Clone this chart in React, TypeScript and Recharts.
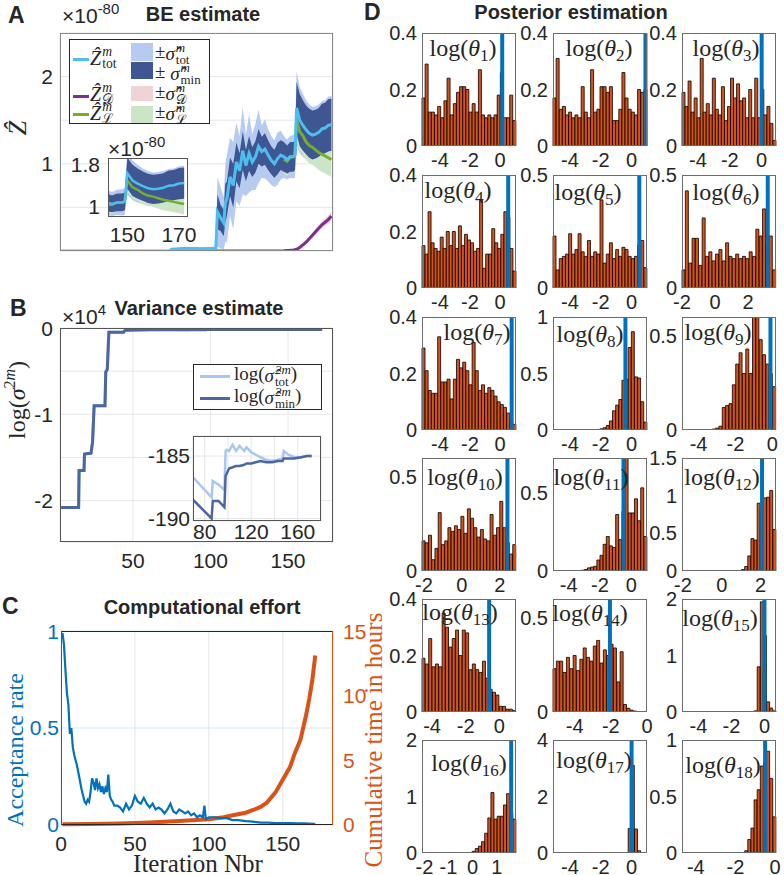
import React from 'react';
import { Area, Bar, CartesianGrid, ComposedChart, Line, ReferenceLine, XAxis, YAxis } from 'recharts';

const SANS = '"Liberation Sans", Arial, Helvetica, sans-serif';
const SERIF = '"Liberation Serif", "DejaVu Serif", "Times New Roman", serif';
const INK = '#262626';
const GRID = '#e6e6e6';
const BLUE = '#0072BD';
const ORANGE = '#D95319';
const PAD = 12;

// ---------- A: BE estimate (x 1e-80) ----------
const aIter = [1, 70, 71, 80, 90, 99, 100, 102, 104, 105, 106, 108, 110, 112, 114, 116, 118, 120, 122, 124, 126, 128, 130, 132, 134, 136, 138, 140, 142, 144, 146, 148, 149, 150, 152, 154, 156, 158, 160, 162, 164, 166, 168, 170, 172];
const zTot = [0, 0, 0.02, 0.03, 0.025, 0.03, 0.45, 0.38, 0.32, 0.55, 0.6, 0.85, 0.75, 1.02, 0.92, 1.15, 0.98, 1.12, 1.02, 1.08, 1.2, 1.14, 1.17, 1.1, 1.04, 1.0, 1.06, 1.1, 1.08, 1.05, 1.08, 1.08, 1.1, 1.64, 1.5, 1.44, 1.39, 1.35, 1.33, 1.34, 1.36, 1.4, 1.41, 1.44, 1.45];
const sigTot = [0, 0, 0.01, 0.02, 0.02, 0.02, 0.4, 0.35, 0.3, 0.45, 0.5, 0.45, 0.5, 0.45, 0.4, 0.5, 0.35, 0.45, 0.32, 0.38, 0.42, 0.3, 0.34, 0.3, 0.28, 0.27, 0.3, 0.28, 0.24, 0.23, 0.24, 0.25, 0.26, 0.42, 0.38, 0.36, 0.34, 0.33, 0.32, 0.32, 0.32, 0.32, 0.32, 0.33, 0.33];
const sigMin = [0, 0, 0.005, 0.01, 0.01, 0.01, 0.2, 0.15, 0.15, 0.22, 0.2, 0.22, 0.25, 0.22, 0.2, 0.22, 0.18, 0.2, 0.17, 0.18, 0.2, 0.17, 0.18, 0.17, 0.16, 0.16, 0.18, 0.17, 0.17, 0.16, 0.17, 0.17, 0.17, 0.3, 0.3, 0.29, 0.28, 0.28, 0.28, 0.28, 0.28, 0.29, 0.29, 0.3, 0.3];
const zD = [null, null, 0, 0, 0, 0, 0, 0, 0, 0, 0, 0, 0, 0, 0, 0, 0, 0, 0, 0, 0, 0, 0, 0, 0, 0, 0, 0, 0.002, 0.005, 0.008, 0.012, 0.015, 0.02, 0.04, 0.07, 0.1, 0.14, 0.18, 0.22, 0.26, 0.3, 0.33, 0.36, 0.4];
const sigD = [null, null, 0.002, 0.002, 0.002, 0.002, 0.003, 0.003, 0.003, 0.003, 0.003, 0.003, 0.003, 0.003, 0.003, 0.003, 0.003, 0.003, 0.003, 0.003, 0.003, 0.003, 0.003, 0.003, 0.003, 0.003, 0.003, 0.003, 0.004, 0.005, 0.006, 0.008, 0.01, 0.012, 0.015, 0.018, 0.02, 0.024, 0.028, 0.032, 0.036, 0.04, 0.044, 0.048, 0.05];
const zL = [null, null, null, null, null, null, null, null, null, null, null, null, null, null, null, null, null, null, null, null, null, null, null, null, null, null, null, null, 1.05, 1.03, 1.08, 1.08, 1.1, 1.5, 1.37, 1.32, 1.25, 1.21, 1.19, 1.16, 1.13, 1.11, 1.09, 1.07, 1.05];
const sigL = [null, null, null, null, null, null, null, null, null, null, null, null, null, null, null, null, null, null, null, null, null, null, null, null, null, null, null, null, 0.17, 0.17, 0.17, 0.17, 0.17, 0.22, 0.22, 0.21, 0.21, 0.2, 0.2, 0.2, 0.2, 0.2, 0.2, 0.2, 0.2];

// ---------- B: variance estimate (log sigma^2) ----------
const varIter = [1, 15, 15.3, 18.5, 18.8, 23, 24, 25, 32, 32.5, 33.5, 34.5, 44, 45, 60, 70, 86, 87, 92, 97, 98, 99, 101, 104, 107, 110, 114, 116, 120, 124, 128, 133, 138, 143, 147, 148, 152, 157, 163, 168, 172];
const varTot = [-20800, -20800, -16500, -16500, -14600, -14500, -13200, -9000, -9000, -5100, -4800, -500, -500, -250, -200, -186.7, -188.3, -187.0, -187.3, -187.7, -184.6, -184.5, -184.6, -184.1, -184.6, -184.2, -184.6, -184.3, -184.7, -184.9, -185.1, -185.3, -185.4, -185.3, -185.2, -184.6, -184.9, -185.1, -185.1, -185.0, -185.0];
const varMin = [-20800, -20800, -16500, -16500, -14600, -14500, -13200, -9000, -9000, -5100, -4800, -500, -500, -250, -200, -188.5, -190.0, -188.6, -188.6, -189.1, -186.6, -186.4, -186.0, -185.9, -185.8, -185.8, -185.7, -185.6, -185.6, -185.5, -185.4, -185.5, -185.5, -185.4, -185.4, -185.2, -185.2, -185.2, -185.1, -185.0, -185.0];

// ---------- C: computational effort ----------
const accIter = [1, 2, 3, 4, 5, 6, 7, 8, 9, 10, 11, 12, 13, 14, 15, 16, 17, 18, 19, 20, 21, 22, 23, 24, 25, 26, 27, 28, 29, 30, 31, 32, 33, 34, 35, 36, 38, 40, 42, 44, 46, 48, 50, 52, 54, 56, 58, 60, 62, 64, 66, 68, 70, 72, 74, 76, 78, 80, 82, 84, 86, 88, 90, 92, 94, 96, 97, 98, 100, 104, 108, 112, 116, 120, 125, 130, 135, 140, 145, 150, 155, 160, 165, 170, 172];
const accRate = [0.99, 0.93, 0.8, 0.68, 0.62, 0.47, 0.5, 0.4, 0.36, 0.33, 0.3, 0.26, 0.22, 0.18, 0.15, 0.12, 0.11, 0.13, 0.12, 0.17, 0.24, 0.22, 0.18, 0.24, 0.19, 0.21, 0.17, 0.2, 0.16, 0.19, 0.17, 0.26, 0.15, 0.13, 0.12, 0.1, 0.1, 0.09, 0.07, 0.11, 0.08, 0.1, 0.15, 0.12, 0.11, 0.14, 0.11, 0.09, 0.11, 0.08, 0.09, 0.08, 0.06, 0.08, 0.11, 0.07, 0.06, 0.08, 0.07, 0.06, 0.07, 0.05, 0.06, 0.04, 0.05, 0.04, 0.1, 0.03, 0.04, 0.04, 0.035, 0.035, 0.025, 0.025, 0.02, 0.017, 0.012, 0.012, 0.01, 0.01, 0.01, 0.008, 0.008, 0.006, 0.006];
const timeIter = [1, 20, 40, 60, 80, 100, 110, 117, 125, 130, 135, 139, 145, 150, 155, 158, 162, 166, 168, 170, 172];
const timeHours = [0.05, 0.07, 0.12, 0.2, 0.3, 0.45, 0.6, 0.77, 0.95, 1.16, 1.4, 1.7, 2.5, 3.5, 4.5, 5.5, 6.6, 8.6, 9.8, 11.2, 13.1];

// ---------- D: posterior histograms ----------
const h1 = [0.17, 0.29, 0.12, 0.12, 0.11, 0.14, 0.10, 0.16, 0.24, 0.11, 0.15, 0.19, 0.21, 0.21, 0.20, 0.12, 0.15, 0.12, 0.27, 0.11, 0.10, 0.11, 0.10, 0.11, 0.18, 0.26, 0.10, 0.10, 0.18, 0.09];
const h2 = [0.17, 0.31, 0.13, 0.14, 0.11, 0.12, 0.10, 0.11, 0.10, 0.21, 0.12, 0.10, 0.27, 0.12, 0.13, 0.21, 0.21, 0.19, 0.21, 0.09, 0.09, 0.13, 0.26, 0.17, 0.13, 0.12, 0.11, 0.20, 0.19, 0.20];
const h3 = [0.19, 0.14, 0.23, 0.12, 0.17, 0.10, 0.31, 0.12, 0.15, 0.11, 0.24, 0.13, 0.11, 0.21, 0.09, 0.14, 0.24, 0.17, 0.22, 0.16, 0.17, 0.10, 0.20, 0.10, 0.24, 0.10, 0.20, 0.11, 0.14, 0.08, 0.02];
const h4 = [0.15, 0.12, 0.27, 0.16, 0.14, 0.13, 0.18, 0.14, 0.20, 0.15, 0.20, 0.14, 0.22, 0.15, 0.19, 0.17, 0.16, 0.13, 0.14, 0.31, 0.07, 0.12, 0.12, 0.21, 0.16, 0.14, 0.19, 0.27, 0.25, 0.14, 0.06];
const h5 = [0.23, 0.08, 0.13, 0.14, 0.15, 0.24, 0.15, 0.17, 0.24, 0.16, 0.14, 0.21, 0.14, 0.16, 0.15, 0.39, 0.11, 0.15, 0.20, 0.13, 0.17, 0.14, 0.18, 0.17, 0.14, 0.13, 0.14, 0.19, 0.21, 0.09];
const h6 = [0.08, 0.43, 0.11, 0.22, 0.22, 0.10, 0.31, 0.14, 0.16, 0.12, 0.15, 0.17, 0.12, 0.20, 0.14, 0.13, 0.15, 0.13, 0.14, 0.13, 0.16, 0.14, 0.26, 0.23, 0.35, 0.20, 0.23, 0.08];
const h7 = [0.29, 0.21, 0.14, 0.13, 0.13, 0.33, 0.17, 0.17, 0.18, 0.11, 0.18, 0.25, 0.22, 0.24, 0.21, 0.16, 0.31, 0.21, 0.14, 0.16, 0.13, 0.15, 0.14, 0.12, 0.10, 0.09, 0.08, 0.06, 0.03, 0.02];
const h8 = [0, 0, 0, 0, 0, 0, 0, 0, 0, 0, 0, 0, 0, 0.002, 0.005, 0.01, 0.02, 0.04, 0.08, 0.17, 0.22, 0.27, 0.44, 0.45, 0.73, 0.87, 0.47, 0.46, 0.25, 0.07];
const h9 = [0, 0, 0, 0, 0, 0, 0, 0, 0, 0.005, 0.01, 0.02, 0.12, 0.13, 0.14, 0.24, 0.35, 0.41, 0.30, 0.43, 0.30, 0.65, 0.65, 0.48, 0.40, 0.35, 0.30, 0.23];
const h10 = [0.16, 0.15, 0.19, 0.06, 0.12, 0.31, 0.14, 0.16, 0.23, 0.21, 0.24, 0.22, 0.29, 0.20, 0.33, 0.28, 0.23, 0.18, 0.22, 0.17, 0.16, 0.30, 0.19, 0.23, 0.37, 0.23, 0.15, 0.09, 0.14];
const h11 = [0, 0, 0, 0, 0, 0, 0, 0, 0.003, 0.005, 0.01, 0.02, 0.025, 0.03, 0.07, 0.10, 0.17, 0.22, 0.16, 0.15, 0.36, 0.20, 0.38, 0.75, 0.37, 0.37, 0.46, 0.32, 0.53, 0.22];
const h12 = [0, 0, 0, 0, 0, 0, 0, 0, 0, 0, 0, 0, 0, 0, 0, 0, 0, 0, 0, 0.02, 0.06, 0.2, 0.43, 0.41, 0.9, 0.81, 0.97, 0.98, 1.07, 0.55];
const h13 = [0.19, 0.17, 0.26, 0.16, 0.17, 0.16, 0.35, 0.30, 0.23, 0.26, 0.29, 0.20, 0.29, 0.28, 0.15, 0.17, 0.15, 0.14, 0.18, 0.12, 0.08, 0.07, 0.06, 0.02, 0.02, 0.01, 0.01, 0.005];
const h14 = [0.23, 0.27, 0.27, 0.21, 0.29, 0.23, 0.30, 0.22, 0.28, 0.34, 0.29, 0.27, 0.35, 0.38, 0.26, 0.33, 0.30, 0.36, 0.34, 0.16, 0.32, 0.04, 0.02, 0.01, 0.005, 0, 0, 0];
const h15 = [0, 0, 0, 0, 0, 0, 0, 0, 0, 0, 0, 0, 0, 0, 0, 0, 0, 0, 0, 0, 0, 0, 0, 0.02, 0.8, 1.95, 1.35, 0.18, 0.07, 0.02];
const h16 = [0, 0, 0, 0, 0, 0, 0, 0, 0, 0, 0, 0, 0, 0, 0, 0, 0.03, 0.08, 0.12, 0.2, 0.35, 0.62, 1.07, 0.6, 0.65, 0.65, 0.85, 1.05, 0.7, 0.6];
const h17 = [0, 0, 0, 0, 0, 0, 0, 0, 0, 0, 0, 0, 0, 0, 0, 0, 0, 0, 0, 0, 0, 0, 0, 0, 0.87, 3.1, 0.85, 0.08, 0, 0];
const h18 = [0, 0, 0, 0, 0, 0, 0, 0, 0, 0, 0, 0, 0, 0, 0, 0, 0, 0, 0, 0, 0.02, 0.12, 0.22, 0.47, 0.56, 0.77, 0.8, 0.9, 0.66, 0.32];

const histCounts = [h1, h2, h3, h4, h5, h6, h7, h8, h9, h10, h11, h12, h13, h14, h15, h16, h17, h18];
const histLo = [-5.2, -5.1, -5.0, -5.2, -5.1, -2.0, -5.2, -5.1, -4.9, -2.1, -5.0, -2.05, -4.6, -5.2, -5.0, -2.1, -5.1, -4.7];
const histHi = [1.07, 1.0, 0.9, 1.07, 1.0, 3.7, 1.07, 1.0, 0.2, 2.85, 1.0, 2.8, 1.0, 0, 0.7, 1.8, 1.0, 0.05];
const histTruth = [0.15, 0.9, 0.0, 0.55, 0.5, 3.2, 0.78, -0.4, -0.1, 2.4, -0.5, 2.08, -0.6, -2.05, 0.0, 1.6, 0.0, -0.5];
const histYMax = [0.4, 0.4, 0.4, 0.4, 0.5, 0.5, 0.4, 1, 0.6, 0.6, 0.72, 1.5, 0.4, 0.6, 2, 2, 4, 1];
const histYTicks = [
  [0, 0.2, 0.4], [0, 0.2, 0.4], [0, 0.2, 0.4], [0, 0.2, 0.4], [0, 0.5], [0, 0.5],
  [0, 0.2, 0.4], [0, 0.5, 1], [0, 0.5], [0, 0.5], [0, 0.5], [0, 0.5, 1, 1.5],
  [0, 0.2, 0.4], [0, 0.5], [0, 1, 2], [0, 1, 2], [0, 2, 4], [0, 0.5, 1],
];
const histXTicks = [
  [-4, -2, 0], [-4, -2, 0], [-4, -2, 0], [-4, -2, 0], [-4, -2, 0], [-2, 0, 2],
  [-4, -2, 0], [-4, -2, 0], [-4, -2, 0], [-2, 0, 2], [-4, -2, 0], [-2, 0, 2],
  [-4, -2, 0], [-4, -2, 0], [-4, -2, 0], [-2, -1, 0, 1], [-4, -2, 0], [-4, -2, 0],
];

// layout of the histogram grid
const HIST_COLS = [422, 553, 682];
const HIST_ROWS = [33, 175, 317, 458, 599, 740];
const HIST_W = 94;
const HIST_H = 113;
const HIST_LABEL_AT = [
  [463, 48], [599, 48], [726, 48],
  [458, 190], [588, 192], [726, 192],
  [477, 332], [590, 334], [718, 332],
  [465, 477], [591, 477], [722, 477],
  [460, 612], [590, 613], [720, 618],
  [469, 763], [594, 760], [723, 765],
];

const aRows = aIter.map((it, i) => ({
  it,
  tot: zTot[i],
  totBand: [zTot[i] - sigTot[i], zTot[i] + sigTot[i]],
  minBand: [zTot[i] - sigMin[i], zTot[i] + sigMin[i]],
  d: zD[i],
  dBand: zD[i] == null ? null : [zD[i] - sigD[i], zD[i] + sigD[i]],
  l: zL[i],
  lBand: zL[i] == null ? null : [zL[i] - sigL[i], zL[i] + sigL[i]],
}));

const varRows = varIter.map((it, i) => ({ it, tot: varTot[i], min: varMin[i] }));

const cIters = Array.from(new Set([...accIter, ...timeIter])).sort((a, b) => a - b);
const cRows = cIters.map((it) => {
  const ai = accIter.indexOf(it);
  const ti = timeIter.indexOf(it);
  return { it, acc: ai >= 0 ? accRate[ai] : null, time: ti >= 0 ? timeHours[ti] : null };
});

function place(x: number, y: number, w: number, h: number, yw: number, xh: number, rw = 0) {
  return {
    style: { position: 'absolute' as const, left: x - yw, top: y - PAD },
    width: yw + w + rw + PAD,
    height: PAD + h + xh + PAD,
    margin: { top: PAD, right: PAD, bottom: PAD, left: 0 },
  };
}

function Txt({ x, y, children, size = 20, family = SANS, weight = 400, color = INK, rotate = 0, anchor = 'middle', italic = false }: any) {
  const tx = anchor === 'middle' ? '-50%' : anchor === 'end' ? '-100%' : '0%';
  return (
    <div
      style={{
        position: 'absolute', left: x, top: y, transform: `translate(${tx}, -50%) rotate(${rotate}deg)`,
        fontSize: size, fontFamily: family, fontWeight: weight, color, whiteSpace: 'nowrap', lineHeight: 1,
        fontStyle: italic ? 'italic' : 'normal',
      }}
    >
      {children}
    </div>
  );
}

function Frame({ x, y, w, h, color = '#6b6b6b', style = {} }: any) {
  return (
    <div style={{ position: 'absolute', left: x, top: y, width: w, height: h, border: `1px solid ${color}`, boxSizing: 'border-box', pointerEvents: 'none', ...style }} />
  );
}

function Scripted({ base, sup, sub, size = 20, italicBase = false }: any) {
  return (
    <span style={{ display: 'inline-flex', alignItems: 'center', fontFamily: SERIF, fontSize: size, verticalAlign: 'middle' }}>
      <span style={{ fontStyle: italicBase ? 'italic' : 'normal' }}>{base}</span>
      <span style={{ display: 'inline-flex', flexDirection: 'column', fontSize: size * 0.68, lineHeight: 0.9, marginLeft: 1 }}>
        <span style={{ fontStyle: 'italic' }}>{sup}</span>
        <span>{sub}</span>
      </span>
    </span>
  );
}

function Times10({ x, y, exp }: any) {
  return (
    <Txt x={x} y={y} anchor="start" size={21}>
      ×10<span style={{ fontSize: 15, position: 'relative', top: -9 }}>{exp}</span>
    </Txt>
  );
}

const tickStyle = (size: number, fill = INK) => ({ fontSize: size, fill, fontFamily: SANS });

function aSeries(w: number) {
  return [
    <Area key="tb" dataKey="totBand" type="linear" stroke="none" fill="#b6cbef" fillOpacity={1} isAnimationActive={false} dot={false} activeDot={false} />,
    <Area key="lb" dataKey="lBand" type="linear" stroke="none" fill="#cce5c7" fillOpacity={1} isAnimationActive={false} dot={false} activeDot={false} />,
    <Area key="db" dataKey="dBand" type="linear" stroke="none" fill="#efd3d7" fillOpacity={1} isAnimationActive={false} dot={false} activeDot={false} />,
    <Area key="mb" dataKey="minBand" type="linear" stroke="none" fill="#3e5691" fillOpacity={1} isAnimationActive={false} dot={false} activeDot={false} />,
    <Line key="d" dataKey="d" type="linear" stroke="#7E2F8E" strokeWidth={w} dot={false} isAnimationActive={false} />,
    <Line key="l" dataKey="l" type="linear" stroke="#77AC30" strokeWidth={w} dot={false} isAnimationActive={false} />,
    <Line key="t" dataKey="tot" type="linear" stroke="#4DBEEE" strokeWidth={w} dot={false} isAnimationActive={false} />,
  ];
}

function PanelA() {
  const main = place(60, 33, 273, 218, 60, 0);
  const ins = place(108, 158, 80, 59, 40, 25);
  const insetRows = aRows.filter((r) => r.it >= 142);
  return (
    <>
      <div style={main.style}>
        <ComposedChart width={main.width} height={main.height} margin={main.margin} data={aRows}>
          <CartesianGrid stroke={GRID} />
          <XAxis dataKey="it" type="number" domain={[0.6, 173]} ticks={[50, 100, 150]} allowDataOverflow height={0} tick={false} axisLine={false} tickLine={false} />
          <YAxis type="number" domain={[0, 2.5]} ticks={[0, 0.5, 1, 1.5, 2]} allowDataOverflow width={60} axisLine={false} tickLine={false} tickSize={0} tickMargin={7} tick={tickStyle(21)} tickFormatter={(v: number) => (Number.isInteger(v) ? String(v) : '')} />
          {aSeries(3)}
        </ComposedChart>
      </div>
      <Frame x={60} y={33} w={273} h={218} color="#8a8a8a" />
      <div style={{ position: 'absolute', left: 108, top: 158, width: 80, height: 59, background: '#fff' }} />
      <div style={ins.style}>
        <ComposedChart width={ins.width} height={ins.height} margin={ins.margin} data={insetRows}>
          <XAxis dataKey="it" type="number" domain={[142.5, 173.5]} ticks={[150, 170]} allowDataOverflow height={25} axisLine={false} tickLine={false} tickSize={0} tickMargin={10} tick={tickStyle(21)} />
          <YAxis type="number" domain={[0.8, 1.93]} ticks={[1, 1.4, 1.8]} allowDataOverflow width={40} axisLine={false} tickLine={false} tickSize={0} tickMargin={8} tick={tickStyle(21)} />
          {aSeries(2.5)}
        </ComposedChart>
      </div>
      <Frame x={108} y={158} w={80} h={59} color="#555" />
      <Times10 x={108} y={148} exp="-80" />
      <LegendA />
      <Txt x={8} y={15} anchor="start" size={23} weight={700}>A</Txt>
      <Times10 x={62} y={15} exp="-80" />
      <Txt x={203} y={14} size={20} weight={700}>BE estimate</Txt>
      <Txt x={18} y={128} rotate={-90} size={26} family={SERIF} italic>Ẑ</Txt>
    </>
  );
}

function LegendA() {
  const sw = (top: number, color: string) => (
    <div style={{ position: 'absolute', left: 3, top: top - 1.5, width: 16, height: 3, background: color }} />
  );
  const patch = (top: number, h: number, color: string) => (
    <div style={{ position: 'absolute', left: 61, top, width: 22, height: h, background: color }} />
  );
  return (
    <div style={{ position: 'absolute', left: 69, top: 39, width: 141, height: 85, background: '#fff', border: `1px solid ${INK}`, boxSizing: 'border-box' }}>
      {sw(19, '#4DBEEE')}
      <Txt x={20} y={18} anchor="start"><Scripted base="Ẑ" sup="m" sub="tot" size={20} italicBase /></Txt>
      {patch(3, 18, '#b6cbef')}
      {patch(22, 17, '#3e5691')}
      <Txt x={85} y={14} anchor="start" family={SERIF} size={19}>±<Scripted base="σ̂" sup="m" sub="tot" size={19} italicBase /></Txt>
      <Txt x={85} y={34} anchor="start" family={SERIF} size={19}>± <Scripted base="σ̂" sup="m" sub="min" size={19} italicBase /></Txt>
      {sw(56, '#7E2F8E')}
      <Txt x={20} y={54} anchor="start"><Scripted base="Ẑ" sup="m" sub="𝒟" size={20} italicBase /></Txt>
      {patch(46, 15, '#efd3d7')}
      <Txt x={85} y={54} anchor="start" family={SERIF} size={19}>±<Scripted base="σ̂" sup="m" sub="𝒟" size={19} italicBase /></Txt>
      {sw(74, '#77AC30')}
      <Txt x={20} y={73} anchor="start"><Scripted base="Ẑ" sup="m" sub="ℒ" size={20} italicBase /></Txt>
      {patch(66, 17, '#cce5c7')}
      <Txt x={85} y={74} anchor="start" family={SERIF} size={19}>±<Scripted base="σ̂" sup="m" sub="ℒ" size={19} italicBase /></Txt>
    </div>
  );
}

function PanelB() {
  const main = place(60, 328, 273, 214, 60, 30);
  const ins = place(193, 436, 128, 85, 45, 22);
  const insetRows = varRows.filter((r) => r.it >= 70);
  return (
    <>
      <div style={main.style}>
        <ComposedChart width={main.width} height={main.height} margin={main.margin} data={varRows}>
          <CartesianGrid stroke={GRID} />
          <XAxis dataKey="it" type="number" domain={[3, 179]} ticks={[50, 100, 150]} allowDataOverflow height={30} axisLine={false} tickLine={false} tickSize={0} tickMargin={11} tick={tickStyle(21)} />
          <YAxis type="number" domain={[-24800, 0]} ticks={[-20000, -15000, -10000, -5000, 0]} allowDataOverflow width={60} axisLine={false} tickLine={false} tickSize={0} tickMargin={7} tick={tickStyle(21)} tickFormatter={(v: number) => (v % 10000 === 0 ? String(v / 10000) : '')} />
          <Line dataKey="tot" type="linear" stroke="#a9c6ee" strokeWidth={3} dot={false} isAnimationActive={false} />
          <Line dataKey="min" type="linear" stroke="#4b66a0" strokeWidth={3} dot={false} isAnimationActive={false} />
        </ComposedChart>
      </div>
      <Frame x={60} y={328} w={273} h={214} color="#555" />
      <div style={{ position: 'absolute', left: 193, top: 436, width: 128, height: 85, background: '#fff' }} />
      <div style={ins.style}>
        <ComposedChart width={ins.width} height={ins.height} margin={ins.margin} data={insetRows}>
          <CartesianGrid stroke={GRID} />
          <XAxis dataKey="it" type="number" domain={[70, 180]} ticks={[80, 100, 120, 140, 160]} allowDataOverflow height={22} axisLine={false} tickLine={false} tickSize={0} tickMargin={3} tick={tickStyle(21)} tickFormatter={(v: number) => (v % 40 === 0 ? String(v) : '')} />
          <YAxis type="number" domain={[-190.2, -183.4]} ticks={[-190, -185]} allowDataOverflow width={45} axisLine={false} tickLine={false} tickSize={0} tickMargin={3} tick={tickStyle(21)} />
          <Line dataKey="tot" type="linear" stroke="#a9c6ee" strokeWidth={2.5} dot={false} isAnimationActive={false} />
          <Line dataKey="min" type="linear" stroke="#4b66a0" strokeWidth={2.5} dot={false} isAnimationActive={false} />
        </ComposedChart>
      </div>
      <Frame x={193} y={436} w={128} h={85} color="#555" />
      <div style={{ position: 'absolute', left: 193, top: 364, width: 129, height: 46, background: '#fff', border: `1px solid ${INK}`, boxSizing: 'border-box' }}>
        <div style={{ position: 'absolute', left: 6, top: 9.5, width: 30, height: 3, background: '#a9c6ee' }} />
        <div style={{ position: 'absolute', left: 6, top: 31.5, width: 30, height: 3, background: '#4b66a0' }} />
        <Txt x={40} y={11} anchor="start" family={SERIF} size={19}>log(<Scripted base="σ̂" sup="2m" sub="tot" size={19} italicBase />)</Txt>
        <Txt x={40} y={33} anchor="start" family={SERIF} size={19}>log(<Scripted base="σ̂" sup="2m" sub="min" size={19} italicBase />)</Txt>
      </div>
      <Txt x={10} y={308} anchor="start" size={23} weight={700}>B</Txt>
      <Times10 x={62} y={316} exp="4" />
      <Txt x={199} y={308} size={20} weight={700}>Variance estimate</Txt>
      <Txt x={17} y={400} rotate={-90} size={24} family={SERIF}>
        log(<i>σ</i><span style={{ fontSize: 16, position: 'relative', top: -10 }}>2<i>m</i></span>)
      </Txt>
    </>
  );
}

function PanelC() {
  const p = place(61, 631, 272, 194, 61, 25, 40);
  return (
    <>
      <div style={p.style}>
        <ComposedChart width={p.width} height={p.height} margin={p.margin} data={cRows}>
          <CartesianGrid stroke={GRID} horizontal={false} yAxisId="acc" />
          <CartesianGrid stroke="#d6e8f3" vertical={false} yAxisId="acc" />
          <XAxis dataKey="it" type="number" domain={[0, 184]} ticks={[0, 50, 100, 150]} allowDataOverflow height={25} axisLine={false} tickLine={false} tickSize={0} tickMargin={11} tick={tickStyle(21)} />
          <YAxis yAxisId="acc" type="number" domain={[0, 1]} ticks={[0, 0.5, 1]} width={61} axisLine={false} tickLine={false} tickSize={0} tickMargin={2} tick={tickStyle(21, BLUE)} />
          <YAxis yAxisId="time" orientation="right" type="number" domain={[0, 15]} ticks={[0, 5, 10, 15]} width={40} axisLine={false} tickLine={false} tickSize={0} tickMargin={10} tick={tickStyle(21, ORANGE)} />
          <Line yAxisId="time" dataKey="time" type="linear" stroke={ORANGE} strokeWidth={4} dot={false} connectNulls isAnimationActive={false} />
          <Line yAxisId="acc" dataKey="acc" type="linear" stroke={BLUE} strokeWidth={2.2} dot={false} connectNulls isAnimationActive={false} />
        </ComposedChart>
      </div>
      <Frame x={61} y={631} w={272} h={194} color={INK} style={{ borderLeftColor: BLUE, borderRightColor: ORANGE }} />
      <Txt x={2} y={606} anchor="start" size={23} weight={700}>C</Txt>
      <Txt x={202} y={607} size={20} weight={700}>Computational effort</Txt>
      <Txt x={15} y={750} rotate={-90} size={24} family={SERIF} color={BLUE}>Acceptance rate</Txt>
      <Txt x={373} y={740} rotate={-90} size={25} family={SERIF} color={ORANGE}>Cumulative time in hours</Txt>
      <Txt x={198} y={863} size={25} family={SERIF}>Iteration Nbr</Txt>
    </>
  );
}

function Histogram({ k }: { k: number }) {
  const x = HIST_COLS[k % 3];
  const y = HIST_ROWS[Math.floor(k / 3)];
  const p = place(x, y, HIST_W, HIST_H, 40, 22);
  const lo = histLo[k];
  const hi = histHi[k];
  const n = histCounts[k].length;
  const rows = histCounts[k].map((v, i) => ({ bin: i, c: lo + ((i + 0.5) * (hi - lo)) / n, v }));
  const [lx, ly] = HIST_LABEL_AT[k];
  return (
    <>
      <div style={p.style}>
        <ComposedChart width={p.width} height={p.height} margin={p.margin} data={rows} barCategoryGap={0} barGap={0}>
          <XAxis xAxisId="num" dataKey="c" type="number" domain={[lo, hi]} ticks={histXTicks[k]} allowDataOverflow height={22} axisLine={false} tickLine={false} tickSize={0} tickMargin={7} tick={tickStyle(20)} />
          <XAxis xAxisId="cat" dataKey="bin" type="category" hide height={0} />
          <YAxis type="number" domain={[0, histYMax[k]]} ticks={histYTicks[k]} allowDataOverflow width={40} axisLine={false} tickLine={false} tickSize={0} tickMargin={5} tick={tickStyle(20)} />
          <Bar xAxisId="cat" dataKey="v" fill={ORANGE} stroke="#000" strokeWidth={0.8} isAnimationActive={false} />
          <ReferenceLine xAxisId="num" x={histTruth[k]} stroke={BLUE} strokeWidth={4} />
        </ComposedChart>
      </div>
      <Frame x={x} y={y} w={HIST_W} h={HIST_H} color="#6b6b6b" />
      <Txt x={lx} y={ly} size={24} family={SERIF}>
        log(<i>θ</i><span style={{ fontSize: 17, position: 'relative', top: 5 }}>{k + 1}</span>)
      </Txt>
    </>
  );
}

function PanelD() {
  return (
    <>
      {histCounts.map((_, k) => <Histogram key={k} k={k} />)}
      <Txt x={364} y={12} anchor="start" size={23} weight={700}>D</Txt>
      <Txt x={571} y={12} size={20} weight={700}>Posterior estimation</Txt>
    </>
  );
}

export default function App() {
  return (
    <div style={{ position: 'absolute', left: 0, top: 0, width: 784, height: 875, background: '#fff', overflow: 'hidden', fontFamily: SANS, color: INK }}>
      <PanelA />
      <PanelB />
      <PanelC />
      <PanelD />
    </div>
  );
}
